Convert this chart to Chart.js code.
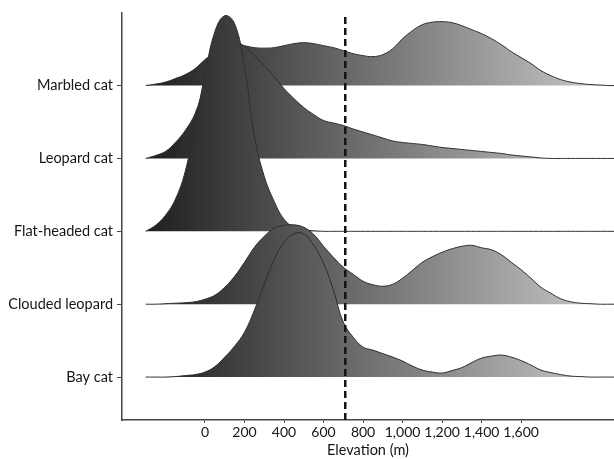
<!DOCTYPE html>
<html>
<head>
<meta charset="utf-8">
<title>Elevation of wild cats</title>
<script src="https://cdn.jsdelivr.net/npm/chart.js@4.4.1/dist/chart.umd.min.js"></script>
<style>
    html, body { margin: 0; padding: 0; background: #fff; }
    .chart-box { width: 614px; height: 459px; position: relative; }
</style>
</head>
<body>
<div class="chart-box"><canvas id="ridgeChart"></canvas></div>
<script>
/* =========================
   DATA
========================= */

// top to bottom as shown on the y axis
const species = ["Marbled cat", "Leopard cat", "Flat-headed cat", "Clouded leopard", "Bay cat"];

// elevation (m) sample points along the x axis
const elevation = [-300, -250, -200, -150, -100, -50, 0, 50, 100, 150, 200, 250, 300, 350, 400,
    450, 500, 550, 600, 650, 700, 750, 800, 850, 900, 950, 1000, 1050, 1100, 1150, 1200, 1250,
    1300, 1350, 1400, 1450, 1500, 1550, 1600, 1650, 1700, 1750, 1800, 1850, 1900, 1950, 2000,
    2050, 2070];

// relative density (ridge height) at each elevation
const marbledCat = [0, 1.5, 3.5, 7, 11, 17, 26, 34, 40, 42, 40, 38, 37.5, 38, 40,
    42, 43, 42, 40, 38, 35, 32, 30, 29, 31, 37, 47, 55, 61, 63.5, 64, 63,
    60, 56, 52, 47, 41, 34, 28, 22, 15, 10, 6, 3.5, 2, 1, 0.5,
    0, 0];

const leopardCat = [0, 3, 7, 16, 28, 45, 75, 100, 115, 118, 112, 103, 93, 82, 70,
    60, 51, 44, 38, 35.5, 33, 29.5, 26.5, 23.5, 20.5, 17.5, 16, 15, 14, 12.5, 11, 10,
    9, 8, 7, 6, 5, 3.5, 2.5, 1.5, 0.5, 0, 0, 0, 0, 0, 0,
    0, 0];

const flatHeadedCat = [0, 6, 16, 32, 60, 107, 157, 200, 216, 208, 165, 95, 55, 30, 12,
    4, 1.5, 0.5, 0, 0, 0, 0, 0, 0, 0, 0, 0, 0, 0, 0, 0, 0,
    0, 0, 0, 0, 0, 0, 0, 0, 0, 0, 0, 0, 0, 0, 0,
    0, 0];

const cloudedLeopard = [0, 0, 0.5, 1, 1.5, 2.5, 5, 9, 17, 28, 42, 57, 68, 76, 79,
    79.5, 77, 70, 58, 47, 37, 30, 23, 19.5, 18, 20, 26, 34, 42, 47.5, 52, 55.5,
    58, 59, 56.5, 54.5, 49.5, 42, 34.5, 26, 17, 11, 5.5, 2.5, 1, 0.5, 0,
    0, 0];

const bayCat = [0, 0, 0, 0.5, 1.5, 2.5, 5, 10.5, 20, 31, 45, 67, 93, 118, 135,
    143.5, 143.5, 132, 114, 87, 55, 40, 30, 27, 23.5, 20, 16, 11, 7, 5, 4, 6.5,
    9.5, 14.5, 19, 21, 22, 20, 16.5, 12, 7, 4.5, 2.5, 1, 0.5, 0, 0,
    0, 0];

const densities = [marbledCat, leopardCat, flatHeadedCat, cloudedLeopard, bayCat];

const xTicks = [0, 200, 400, 600, 800, 1000, 1200, 1400, 1600];

const thresholdElevation = 710;

/* =========================
   LAYOUT CONSTANTS
========================= */

const ROW_GAP = 73;
const Y_MIN = -43;
const Y_MAX = 365;

/* =========================
   HELPERS
========================= */

let fillGradient = null;

function ridgeFill(context){

    const chart = context.chart;
    const area = chart.chartArea;

    if(!area || !chart.scales.x){
        return "#555";
    }

    if(!fillGradient){

        const x0 = chart.scales.x.getPixelForValue(elevation[0]);
        const x1 = chart.scales.x.getPixelForValue(elevation[elevation.length - 1]);

        fillGradient = chart.ctx.createLinearGradient(x0, 0, x1, 0);
        fillGradient.addColorStop(0, "#1e1e1e");
        fillGradient.addColorStop(1, "#cbcbcb");

    }

    return fillGradient;

}

function baselineOf(index){
    return ROW_GAP * (species.length - 1 - index);
}

/* =========================
   DATASETS
========================= */

const datasets = [];

// dashed threshold line, drawn over everything
datasets.push({
    label: "threshold",
    data: [
        { x: thresholdElevation, y: Y_MIN },
        { x: thresholdElevation, y: 362 }
    ],
    borderColor: "#151515",
    borderWidth: 2.5,
    borderDash: [7, 4],
    pointRadius: 0,
    tension: 0,
    fill: false
});

// lower ridges go in front, so push from the bottom up
for(let i = species.length - 1; i >= 0; i--){

    const base = baselineOf(i);

    datasets.push({
        label: species[i],
        data: elevation.map((e, k) => ({ x: e, y: base + densities[i][k] })),
        borderColor: "#2e2e2e",
        borderWidth: 1,
        backgroundColor: ridgeFill,
        fill: { value: base },
        pointRadius: 0,
        tension: 0.4
    });

}

/* =========================
   CHART
========================= */

Chart.defaults.font.family = "Lato, 'Open Sans', sans-serif";
Chart.defaults.color = "#151515";

new Chart(document.getElementById("ridgeChart"), {

    type: "line",

    data: { datasets: datasets },

    options: {

        responsive: true,
        maintainAspectRatio: false,
        animation: false,

        layout: {
            padding: { top: 12, right: 0, left: 0, bottom: 0 }
        },

        plugins: {
            legend: { display: false },
            tooltip: { enabled: false }
        },

        scales: {

            x: {
                type: "linear",
                min: -420,
                max: 2070,
                afterBuildTicks: scale => {
                    scale.ticks = xTicks.map(v => ({ value: v }));
                },
                afterFit: scale => {
                    scale.height = 39;
                },
                ticks: {
                    font: { size: 14 },
                    padding: 1,
                    maxRotation: 0,
                    autoSkip: false,
                    callback: v => v.toLocaleString("en-US")
                },
                grid: {
                    drawOnChartArea: false,
                    drawTicks: true,
                    tickLength: 3,
                    color: "#474747"
                },
                border: { display: true, color: "#474747", width: 1.5 },
                title: {
                    display: true,
                    text: "Elevation (m)",
                    font: { size: 14.5 },
                    padding: { top: 0, bottom: 0 }
                }
            },

            y: {
                type: "linear",
                min: Y_MIN,
                max: Y_MAX,
                afterBuildTicks: scale => {
                    scale.ticks = species.map((s, i) => ({ value: baselineOf(i) }));
                },
                afterFit: scale => {
                    scale.width = 122;
                },
                ticks: {
                    font: { size: 14.5 },
                    padding: 4,
                    autoSkip: false,
                    callback: v => species[species.length - 1 - Math.round(v / ROW_GAP)]
                },
                grid: {
                    drawOnChartArea: false,
                    drawTicks: true,
                    tickLength: 5,
                    color: "#474747"
                },
                border: { display: true, color: "#474747", width: 1.5 }
            }

        }

    }

});
</script>
</body>
</html>
